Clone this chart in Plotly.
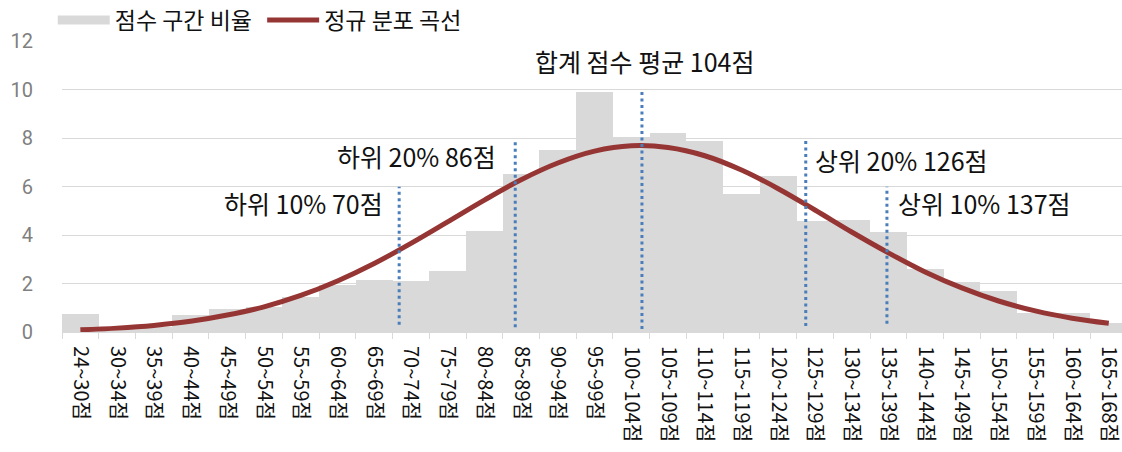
import plotly.graph_objects as go

categories = ["24~30점", "30~34점", "35~39점", "40~44점", "45~49점", "50~54점", "55~59점",
              "60~64점", "65~69점", "70~74점", "75~79점", "80~84점", "85~89점", "90~94점",
              "95~99점", "100~104점", "105~109점", "110~114점", "115~119점", "120~124점",
              "125~129점", "130~134점", "135~139점", "140~144점", "145~149점", "150~154점",
              "155~159점", "160~164점", "165~168점"]

bar_values = [0.73, 0.10, 0.20, 0.69, 0.94, 1.03, 1.44, 1.94, 2.13, 2.10, 2.50, 4.17, 6.50, 7.50,
              9.91, 8.04, 8.18, 7.85, 5.68, 6.43, 4.55, 4.59, 4.12, 2.58, 2.03, 1.69, 0.78, 0.77, 0.34]

curve_values = [0.09, 0.16, 0.27, 0.44, 0.70, 1.04, 1.51, 2.11, 2.83, 3.66, 4.55, 5.45, 6.29, 6.98,
                7.47, 7.69, 7.62, 7.28, 6.69, 5.92, 5.04, 4.13, 3.27, 2.48, 1.82, 1.28, 0.87, 0.57, 0.36]

# reference (percentile) lines: position on category axis, top value, label
ref_pos = [8.68, 11.84, 15.29, 19.75, 21.96]
ref_top = [6.0, 7.9, 10.0, 7.95, 6.0]
ref_bottom = [0.3, 0.2, 0.12, 0.25, 0.34]
ref_labels = ["하위 10% 70점", "하위 20% 86점", "합계 점수 평균 104점", "상위 20% 126점", "상위 10% 137점"]
label_x = [8.30, 11.38, 15.37, 19.95, 22.22]
label_y = [5.32, 7.25, 11.2, 7.12, 5.32]
label_anchor = ["right", "right", "center", "left", "left"]

y_ticks = [0, 2, 4, 6, 8, 10, 12]

FONT = "Noto Sans CJK KR"
BAR_COLOR = "#D9D9D9"
LINE_COLOR = "#963634"
REF_COLOR = "#4A7EBB"

fig = go.Figure()

fig.add_trace(go.Bar(
    x=categories, y=bar_values, marker=dict(color=BAR_COLOR, line=dict(width=0)),
    name="점수 구간 비율", showlegend=False,
))
fig.add_trace(go.Scatter(
    x=categories, y=curve_values, mode="lines", line=dict(color=LINE_COLOR, width=5, shape="spline"),
    name="정규 분포 곡선", showlegend=False,
))
# legend entries
fig.add_trace(go.Scatter(x=[None], y=[None], mode="lines", line=dict(color=BAR_COLOR, width=9),
                         name="점수 구간 비율\u00a0", showlegend=True))
fig.add_trace(go.Scatter(x=[None], y=[None], mode="lines", line=dict(color=LINE_COLOR, width=5),
                         name="정규 분포 곡선", showlegend=True))

for p, t, b in zip(ref_pos, ref_top, ref_bottom):
    fig.add_shape(type="line", xref="x", yref="y", x0=p, x1=p, y0=b, y1=t,
                  line=dict(color=REF_COLOR, width=3, dash="3px,3.5px"))

for txt, lx, ly, anc in zip(ref_labels, label_x, label_y, label_anchor):
    fig.add_annotation(x=lx, y=ly, xref="x", yref="y", text=txt, showarrow=False,
                       xanchor=anc, yanchor="middle", font=dict(family=FONT, size=25, color="#111111"))

fig.update_layout(
    width=1122, height=452,
    margin=dict(l=62, r=0, t=39, b=120),
    paper_bgcolor="white", plot_bgcolor="white",
    bargap=0,
    font=dict(family=FONT, color="#111111"),
    legend=dict(orientation="h", xref="container", yref="container", x=0.047, xanchor="left",
                y=0.9558, yanchor="middle",
                font=dict(family=FONT, size=23, color="#111111"),
                itemwidth=52, tracegroupgap=0, bgcolor="rgba(0,0,0,0)"),
    xaxis=dict(
        type="category", range=[-0.5, 28.36], tickangle=90, tickson="boundaries",
        ticks="outside", ticklen=6, tickcolor="#D9D9D9", tickwidth=1, automargin=False,
        showline=True, linecolor="#D9D9D9", linewidth=1, showgrid=False, ticklabelstandoff=9,
        tickfont=dict(family=FONT, size=20, color="#111111"),
    ),
    yaxis=dict(
        range=[0, 12], tickvals=y_ticks, showgrid=True, gridcolor="#D9D9D9", gridwidth=1,
        zeroline=False, showline=False, ticks="", ticklabelstandoff=28, automargin=False,
        tickfont=dict(family="Roboto", size=20, color="#7F7F7F"),
    ),
)

fig.write_html("out.html", config={"displayModeBar": False},
               post_script="document.body.style.margin='0';document.body.style.overflow='hidden';")
